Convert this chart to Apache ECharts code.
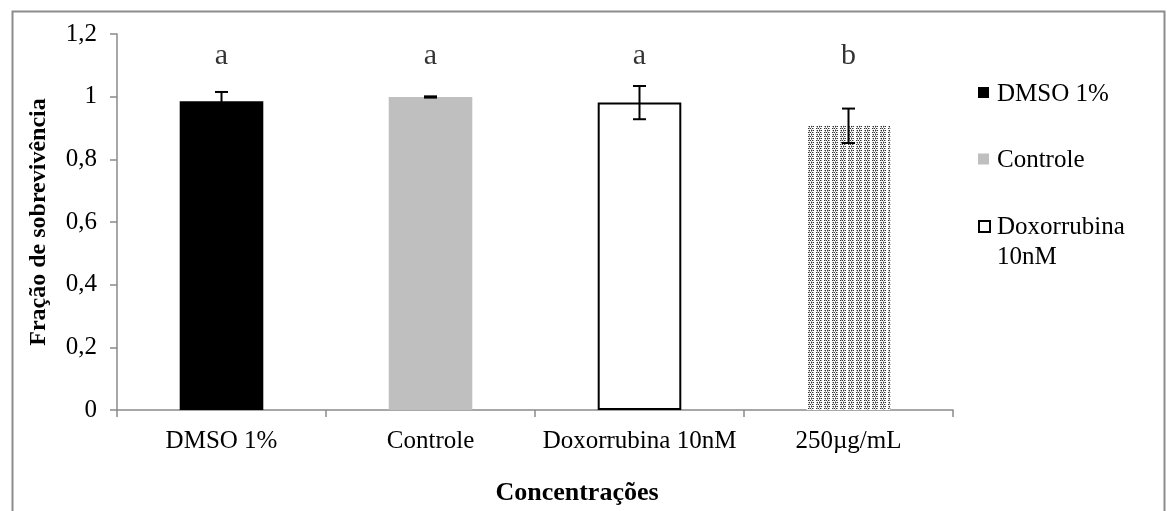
<!DOCTYPE html>
<html>
<head>
<meta charset="utf-8">
<script src="https://cdn.jsdelivr.net/npm/echarts@6/dist/echarts.min.js"></script>
<style>
html,body{margin:0;padding:0;background:#fff;}
#c{width:1167px;height:511px;}
</style>
</head>
<body>
<div id="c"></div>
<script>
// ---- data ----
const categories = ['DMSO 1%', 'Controle', 'Doxorrubina 10nM', '250µg/mL'];
const means = [0.985, 0.999, 0.981, 0.907];
const errors = [0.030, 0.002, 0.053, 0.055];
const letters = ['a', 'a', 'a', 'b'];
const legendNames = ['DMSO 1%', 'Controle', 'Doxorrubina\n10nM'];
const yTicks = { min: 0, max: 1.2, interval: 0.2 };
const letterLevel = 1.08;

// ---- styles ----
function makePattern() {
  const c = document.createElement('canvas');
  c.width = 8; c.height = 4;
  const g = c.getContext('2d');
  g.fillStyle = '#ffffff'; g.fillRect(0, 0, 8, 4);
  g.fillStyle = '#333';
  [[0,0],[2,0],[4,0],[1,2],[3,2],[5,2]].forEach(p => g.fillRect(p[0], p[1], 1, 1));
  g.fillStyle = '#aaa';
  [[1,0],[3,1],[5,0],[0,2],[4,2],[1,3],[3,3]].forEach(p => g.fillRect(p[0], p[1], 1, 1));
  return c;
}
const barStyles = [
  { color: '#000000' },
  { color: '#bfbfbf' },
  { color: '#ffffff', borderColor: '#000000', borderWidth: 2 },
  { color: { image: makePattern(), repeat: 'repeat' } }
];
const legendStyles = [
  { fill: '#000', stroke: '#000', lineWidth: 0 },
  { fill: '#bfbfbf', stroke: '#bfbfbf', lineWidth: 0 },
  { fill: '#fff', stroke: '#000', lineWidth: 2 }
];
const serif = '"Liberation Serif", "Times New Roman", serif';
const axisGray = '#8a8a8a';

const chart = echarts.init(document.getElementById('c'), null, { renderer: 'canvas' });

const legendGraphics = [];
legendNames.forEach((n, i) => {
  const y0 = 87 + i * 66.5;
  legendGraphics.push({
    type: 'rect', left: 978, top: y0, shape: { width: 11, height: 11 },
    style: legendStyles[i]
  });
  legendGraphics.push({
    type: 'text', left: 997, top: y0 - 8,
    style: { text: n, font: '25px ' + serif, fill: '#000', lineHeight: 30 }
  });
});

const option = {
  animation: false,
  backgroundColor: '#fff',
  grid: { left: 117, right: 214, top: 34, bottom: 101, containLabel: false },
  xAxis: {
    type: 'category',
    data: categories,
    axisLine: { lineStyle: { color: axisGray, width: 1.5 } },
    axisTick: { show: true, length: 7, lineStyle: { color: axisGray, width: 1.5 } },
    axisLabel: { color: '#000', fontFamily: serif, fontSize: 25, margin: 19, interval: 0 },
    name: 'Concentrações',
    nameLocation: 'middle',
    nameGap: 70,
    nameTextStyle: { color: '#000', fontFamily: serif, fontSize: 26, fontWeight: 'bold', padding: [0, 0, 0, 84] }
  },
  yAxis: {
    type: 'value',
    min: yTicks.min, max: yTicks.max, interval: yTicks.interval,
    splitLine: { show: false },
    axisLine: { show: true, lineStyle: { color: axisGray, width: 1.5 } },
    axisTick: { show: true, length: 7, lineStyle: { color: axisGray, width: 1.5 } },
    axisLabel: {
      color: '#000', fontFamily: serif, fontSize: 25, margin: 20,
      formatter: v => String(Math.round(v * 10) / 10).replace('.', ',')
    },
    name: 'Fração de sobrevivência',
    nameLocation: 'middle',
    nameGap: 66,
    nameTextStyle: { color: '#000', fontFamily: serif, fontSize: 24, fontWeight: 'bold' }
  },
  series: [
    {
      type: 'bar',
      barWidth: '40%',
      data: means.map((v, i) => ({ value: v, itemStyle: barStyles[i] }))
    },
    {
      type: 'custom',
      z: 5,
      data: means.map((v, i) => [i, v - errors[i], v + errors[i]]),
      renderItem: function (params, api) {
        const lo = api.coord([api.value(0), api.value(1)]);
        const hi = api.coord([api.value(0), api.value(2)]);
        const hw = 6.5;
        const st = { stroke: '#000', lineWidth: 2 };
        return {
          type: 'group',
          children: [
            { type: 'line', shape: { x1: hi[0], y1: hi[1], x2: lo[0], y2: lo[1] }, style: st },
            { type: 'line', shape: { x1: hi[0] - hw, y1: hi[1], x2: hi[0] + hw, y2: hi[1] }, style: st },
            { type: 'line', shape: { x1: lo[0] - hw, y1: lo[1], x2: lo[0] + hw, y2: lo[1] }, style: st }
          ]
        };
      }
    },
    {
      type: 'scatter',
      symbolSize: 0,
      data: letters.map((l, i) => [i, letterLevel]),
      label: {
        show: true, position: 'top', distance: 0,
        formatter: p => letters[p.dataIndex],
        color: '#000', fontFamily: serif, fontSize: 30
      }
    }
  ],
  graphic: [
    {
      type: 'rect', left: 10, top: 9, silent: true,
      shape: { width: 1152, height: 530 },
      style: { fill: 'none', stroke: '#8c8c8c', lineWidth: 2 }
    }
  ].concat(legendGraphics)
};
chart.setOption(option);
</script>
</body>
</html>
